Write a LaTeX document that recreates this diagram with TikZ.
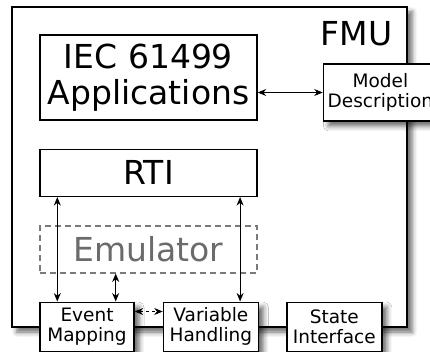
\documentclass[tikz,border=0pt]{standalone}
\usepackage{fontspec}
\setmainfont{DejaVu Sans}
\usetikzlibrary{positioning, arrows.meta, shadows.blur}

\definecolor{emugray}{HTML}{6B6B6B}

\tikzset{
  box/.style={draw, line width=1.4pt, fill=white, inner sep=2pt, align=center},
  bigbox/.style={box, font=\fontsize{33}{36}\selectfont, minimum width=217pt},
  smallbox/.style={box, font=\fontsize{18.5}{20}\selectfont, minimum width=95pt, minimum height=49pt},
  shade/.style={blur shadow={shadow xshift=5pt, shadow yshift=-5pt, shadow blur radius=5pt, shadow opacity=60}},
  link/.style={<->, line width=0.9pt},
}

\begin{document}
\begin{tikzpicture}[x=1pt, y=1pt, node distance=28pt, >={Stealth[length=8.5pt,width=7pt]}]
    \useasboundingbox (0,0) rectangle (430,351);
    \node (fmu) [box, shade, minimum width=395pt, minimum height=320pt] at (209.5,184) {};
    \node (fmulabel) [anchor=north east, inner sep=0pt, font=\fontsize{33}{36}\selectfont] at ([xshift=-15pt,yshift=-15pt]fmu.north east) {FMU};
    \node (iec) [bigbox, minimum height=85pt] at (148.5,273.5) {IEC 61499\\Applications};
    \node (md) [smallbox, shade, minimum width=114pt, minimum height=57pt, right=65pt of iec, yshift=-15pt] {Model\\Description};
    \node (rti) [bigbox, minimum height=47pt, below=of iec] {RTI};
    \node (emu) [bigbox, minimum height=47pt, below=of rti, fill=none, draw=emugray!90, dash pattern=on 6pt off 4pt, text=emugray] {Emulator};
    \node (em) [smallbox, shade, minimum width=94pt, below=28pt of emu.south west, anchor=north west] {Event\\Mapping};
    \node (vh) [smallbox, shade, right=28pt of em] {Variable\\Handling};
    \node (si) [smallbox, shade, right=27pt of vh] {State\\Interface};
    \draw[link] (md.west) -- (md.west -| iec.east);
    \draw[link] ([xshift=18pt]em.north west) -- ([xshift=18pt]em.north west |- rti.south);
    \draw[link] ([xshift=-19pt]vh.north east) -- ([xshift=-19pt]vh.north east |- rti.south);
    \draw[link] ([xshift=-19pt]em.north east) -- ([xshift=-19pt]em.north east |- emu.south);
    \draw[link, dashed] ([yshift=-10pt]em.north east) -- ([yshift=-10pt]em.north east -| vh.west);
\end{tikzpicture}
\end{document}
